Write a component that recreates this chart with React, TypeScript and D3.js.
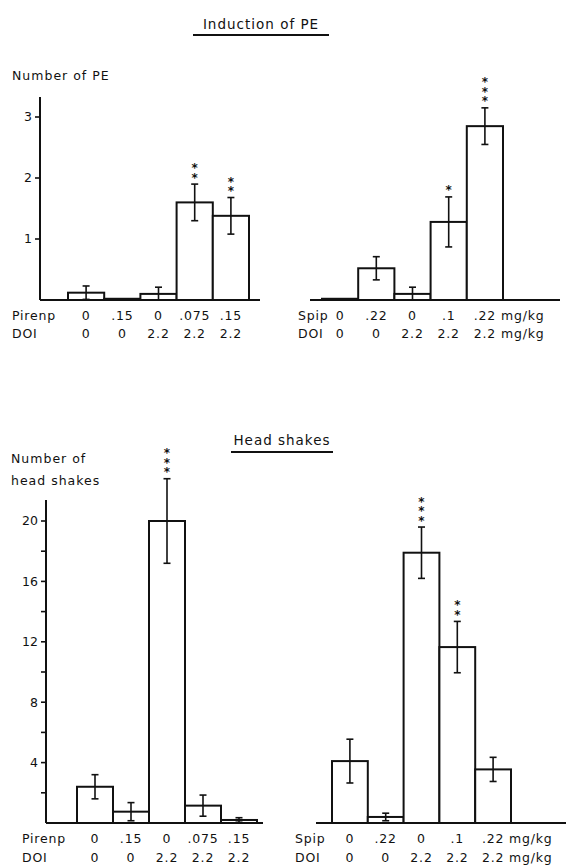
import React from "react";
import * as d3 from "d3";

// Induction of PE
const peLeftMeans = [0.12, 0.02, 0.1, 1.6, 1.38];
const peLeftSem = [0.11, 0, 0.11, 0.3, 0.3];
const peLeftStars = ["", "", "", "**", "**"];
const peRightMeans = [0.02, 0.52, 0.1, 1.28, 2.85];
const peRightSem = [0, 0.19, 0.11, 0.41, 0.3];
const peRightStars = ["", "", "", "*", "***"];
const peTicks = [1, 2, 3];

// Head shakes
const hsLeftMeans = [2.4, 0.75, 20, 1.15, 0.2];
const hsLeftSem = [0.8, 0.6, 2.8, 0.7, 0.15];
const hsLeftStars = ["", "", "***", "", ""];
const hsRightMeans = [4.1, 0.4, 17.9, 11.65, 3.55];
const hsRightSem = [1.45, 0.25, 1.7, 1.7, 0.8];
const hsRightStars = ["", "", "***", "**", ""];
const hsTicks = [4, 8, 12, 16, 20];
const hsMinorTicks = [2, 6, 10, 14, 18];

// dose labels
const pirenpDoses = ["0", ".15", "0", ".075", ".15"];
const spipDoses = ["0", ".22", "0", ".1", ".22"];
const doiDoses = ["0", "0", "2.2", "2.2", "2.2"];

const FONT = "'DejaVu Sans', sans-serif";

type PanelProps = {
  means: number[];
  sem: number[];
  stars: string[];
  y: d3.ScaleLinear<number, number>;
  bandRange: [number, number];
  baseRange: [number, number];
  row1: string;
  row1Doses: string[];
  rowX: number;
  rowY: [number, number];
  unit?: boolean;
};

const Panel = ({ means, sem, stars, y, bandRange, baseRange, row1, row1Doses, rowX, rowY, unit }: PanelProps) => {
  const x = d3.scaleBand<number>().domain(d3.range(means.length)).range(bandRange).paddingInner(0);
  const y0 = y(0);
  return (
    <g>
      {means.map((m, i) => (
        <rect key={"b" + i} x={x(i)} y={y(m)} width={x.bandwidth()} height={y0 - y(m)}
          fill="white" stroke="#111" strokeWidth={2} />
      ))}
      {means.map((m, i) => {
        if (sem[i] <= 0) return null;
        const cx = x(i)! + x.bandwidth() / 2;
        const hi = y(m + sem[i]);
        const lo = y(Math.max(0, m - sem[i]));
        return (
          <g key={"e" + i} stroke="#111" strokeWidth={1.6}>
            <line x1={cx} x2={cx} y1={hi} y2={lo} />
            <line x1={cx - 3.5} x2={cx + 3.5} y1={hi} y2={hi} />
            <line x1={cx - 3.5} x2={cx + 3.5} y1={lo} y2={lo} />
          </g>
        );
      })}
      {stars.map((s, i) => {
        if (!s) return null;
        const cx = x(i)! + x.bandwidth() / 2;
        const top = y(means[i] + sem[i]);
        // stars stacked vertically in one text run
        return (
          <text key={"s" + i} x={cx} y={top - 4} textAnchor="end" fontFamily={FONT} fontSize={12}
            fontWeight="bold" fill="#111" letterSpacing={-4.5}
            style={{ writingMode: "vertical-rl", textOrientation: "upright" }}>{s}</text>
        );
      })}
      <line x1={baseRange[0]} x2={baseRange[1]} y1={y0} y2={y0} stroke="#111" strokeWidth={2} />
      <g fontFamily={FONT} fontSize={12.5} fill="#111" letterSpacing={0.8}>
        <text x={rowX} y={rowY[0]}>{row1}</text>
        <text x={rowX} y={rowY[1]}>DOI</text>
        {row1Doses.map((d, i) => (
          <text key={"r1" + i} x={x(i)! + x.bandwidth() / 2} y={rowY[0]} textAnchor="middle">{d}</text>
        ))}
        {doiDoses.map((d, i) => (
          <text key={"r2" + i} x={x(i)! + x.bandwidth() / 2} y={rowY[1]} textAnchor="middle">{d}</text>
        ))}
        {unit && (
          <>
            <text x={bandRange[1] - 2} y={rowY[0]}>mg/kg</text>
            <text x={bandRange[1] - 2} y={rowY[1]}>mg/kg</text>
          </>
        )}
      </g>
    </g>
  );
};

const YAxis = ({ y, x0, ticks, minor, top }: { y: d3.ScaleLinear<number, number>; x0: number; ticks: number[]; minor: number[]; top: number }) => (
  <g stroke="#111">
    <line x1={x0} x2={x0} y1={top} y2={y(0)} strokeWidth={2} />
    {ticks.concat(minor).map((t) => (
      <line key={"t" + t} x1={x0 - 5} x2={x0} y1={y(t)} y2={y(t)} strokeWidth={1.6} />
    ))}
    {ticks.map((t) => (
      <text key={"l" + t} x={x0 - 8} y={y(t)} dy="0.35em" textAnchor="end" stroke="none"
        fill="#111" fontFamily={FONT} fontSize={12.5}>{t}</text>
    ))}
  </g>
);

export default function App() {
  const yPE = d3.scaleLinear().domain([0, 3]).range([300, 117]);
  const yHS = d3.scaleLinear().domain([0, 20]).range([823, 521]);
  return (
    <svg width={566} height={866} style={{ position: "absolute", left: 0, top: 0, background: "white" }}>
      <rect width={566} height={866} fill="white" />
      <g fontFamily={FONT} fill="#111" letterSpacing={1}>
        <text x={261} y={29} textAnchor="middle" fontSize={13.5}>Induction of PE</text>
        <line x1={193} x2={329} y1={35} y2={35} stroke="#111" strokeWidth={1.8} />
        <text x={12} y={80} fontSize={12.5}>Number of PE</text>
        <text x={282} y={445} textAnchor="middle" fontSize={13.5}>Head shakes</text>
        <line x1={231} x2={333} y1={452} y2={452} stroke="#111" strokeWidth={1.8} />
        <text x={11} y={463} fontSize={12.5}>Number of</text>
        <text x={11} y={485} fontSize={12.5}>head shakes</text>
      </g>

      <YAxis y={yPE} x0={40} ticks={peTicks} minor={[]} top={97} />
      <Panel means={peLeftMeans} sem={peLeftSem} stars={peLeftStars} y={yPE}
        bandRange={[68, 249]} baseRange={[40, 260]} row1="Pirenp" row1Doses={pirenpDoses}
        rowX={12} rowY={[320, 338]} />
      <Panel means={peRightMeans} sem={peRightSem} stars={peRightStars} y={yPE}
        bandRange={[322, 503]} baseRange={[310, 560]} row1="Spip" row1Doses={spipDoses}
        rowX={298} rowY={[320, 338]} unit />

      <YAxis y={yHS} x0={46} ticks={hsTicks} minor={hsMinorTicks} top={500} />
      <Panel means={hsLeftMeans} sem={hsLeftSem} stars={hsLeftStars} y={yHS}
        bandRange={[77, 257]} baseRange={[46, 263]} row1="Pirenp" row1Doses={pirenpDoses}
        rowX={22} rowY={[843, 862]} />
      <Panel means={hsRightMeans} sem={hsRightSem} stars={hsRightStars} y={yHS}
        bandRange={[332, 511]} baseRange={[316, 566]} row1="Spip" row1Doses={spipDoses}
        rowX={295} rowY={[843, 862]} unit />
    </svg>
  );
}
